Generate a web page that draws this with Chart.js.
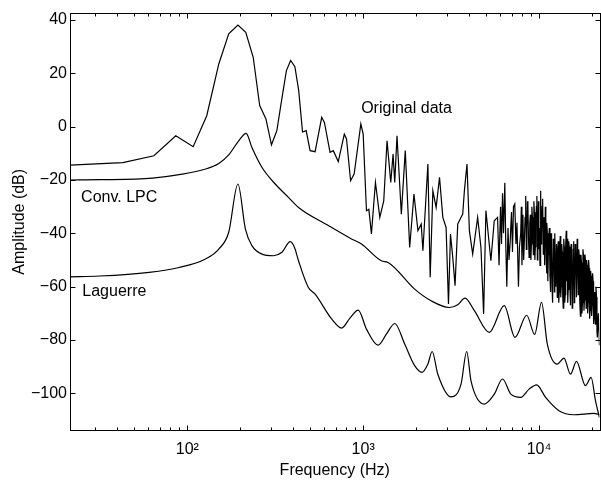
<!DOCTYPE html>
<html>
<head>
<meta charset="utf-8">
<script src="https://cdn.jsdelivr.net/npm/chart.js@4.4.0/dist/chart.umd.min.js"></script>
<style>
    html, body { margin: 0; padding: 0; background: #fff; overflow: hidden; }
    #wrap { width: 601px; height: 480px; }
</style>
</head>
<body>
<div id="wrap"><canvas id="grafico" width="601" height="480"></canvas></div>
<script>
// Espectro original (FFT): frequência (Hz) e amplitude (dB)
const origFreq = [21.5, 43, 64.6, 86, 108, 129, 151, 172, 194, 215, 237, 258, 280, 301, 323, 344, 366, 387, 409, 430,
    452, 474, 499, 533, 581, 602, 648, 676, 722, 781, 804, 848, 889, 970, 1000, 1044, 1077, 1114, 1174, 1243,
    1309, 1367, 1435, 1479, 1512, 1557, 1648, 1735, 1838, 1944, 2048, 2138, 2186, 2333, 2404, 2490, 2599, 2717, 2837, 2961,
    3055, 3136, 3231, 3329, 3449, 3681, 3763, 3893, 4016, 4194, 4476, 4673, 4840, 4987, 5322, 5563,
    5808, 5923, 6040, 6118, 6199, 6280, 6387, 6472, 6557, 6659, 6747, 6853, 6970, 7062, 7154, 7276, 7391, 7488, 7636, 7736,
    7868, 7930, 7993, 8045, 8097, 8177, 8257, 8327, 8398, 8464, 8530, 8586, 8642, 8710, 8778, 8853, 8928, 8986, 9045, 9104,
    9164, 9224, 9284, 9345, 9406, 9467, 9529, 9591, 9654, 9717, 9781, 9845, 9909, 9974, 10039, 10125, 10210, 10278, 10345, 10412,
    10480, 10576, 10673, 10729, 10785, 10856, 10927, 10984, 11041, 11092, 11143, 11216, 11289, 11362, 11436, 11534, 11632, 11708, 11784, 11862,
    11939, 12049, 12159, 12223, 12287, 12367, 12447, 12570, 12693, 12776, 12860, 12944, 13028, 13114, 13200, 13286, 13373, 13460, 13548, 13637,
    13726, 13815, 13905, 13996, 14088, 14180, 14272, 14366, 14460, 14554, 14649, 14745, 14841, 14968, 15095, 15214, 15333, 15433, 15533, 15635,
    15738, 15841, 15944, 16048, 16153, 16312, 16472, 16580, 16688, 16798, 16908, 17052, 17196, 17308, 17421, 17536, 17651, 17766, 17882, 17999,
    18116, 18234, 18353, 18437, 18522, 18643, 18764, 18887, 19010, 19135, 19260, 19386, 19512, 19640, 19768, 19898, 20028, 20159, 20290, 20423,
    20556, 20732, 20908, 21073, 21238, 21349, 21460, 21755, 22050];
const origDb = [-14.4, -13.5, -10.9, -3.4, -7.5, 4.1, 23.5, 34.8, 38.1, 35.4, 26, 7.9, 2.9, -6.8, -1.5, 10, 21, 24.8, 22.5, 13.5,
    -2, -1.5, -9, -9.4, 3.5, 1.6, -9.6, -9, -13.1, -2.8, -4.6, -20.3, -17.7, 1, -2.8, -31.5, -31, -40.2, -20.9, -34,
    -27.8, -5.3, -20.9, -10.3, -20.9, -3.4, -32.8, -9, -45.3, -25.3, -39, -36.5, -46.5, -14, -56.5, -24, -30.3, -19, -34, -37.8,
    -66.5, -40.3, -49, -59.6, -36.5, -32.8, -24, -14, -39, -47.8, -34, -45.3, -70.2, -31.5, -50.3, -35.3,
    -34, -52, -30, -44, -25, -40, -21, -45, -60, -38, -50, -43, -32, -47, -30, -29, -44, -36, -60, -45,
    -40, -30, -52, -44, -33, -50, -42, -34, -26, -46, -38, -28, -30, -42, -49, -36, -33, -50, -44, -30,
    -34, -40, -48, -28, -32, -50, -45, -36, -30, -26, -50, -42, -28, -46, -38, -52, -24, -44, -40, -30,
    -27, -48, -34, -45, -52, -30, -36, -50, -55, -36, -40, -58, -48, -42, -38, -56, -62, -40, -44, -60,
    -66, -42, -47, -62, -40, -50, -60, -44, -64, -46, -43, -66, -62, -45, -41, -64, -60, -44, -47, -64,
    -68, -42, -45, -66, -63, -44, -39, -58, -42, -66, -61, -43, -45, -60, -67, -44, -47, -68, -64, -46,
    -43, -66, -62, -44, -45, -64, -42, -50, -63, -46, -48, -66, -71, -48, -51, -70, -66, -46, -48, -69,
    -65, -48, -50, -62, -68, -50, -52, -70, -66, -50, -53, -72, -69, -54, -56, -71, -67, -55, -58, -74,
    -72, -62, -74, -60, -64, -77, -79, -70, -82];

// LPC convencional
const lpcFreq = [21.5, 31.6, 63.4, 89.8, 127, 151, 172, 196, 216, 233, 266, 316, 376, 429, 634, 858, 978, 1269, 1385, 1962,
    2435, 3095, 3449, 3793, 4288, 5212, 6339, 7295, 8509, 9443, 10330, 11143, 12693, 13852, 15095, 16323, 18353, 19770, 20965, 22050];
const lpcDb = [-20, -19.9, -19.3, -18, -15.9, -13.8, -10.6, -5.3, -2.5, -7.8, -15.3, -21.5, -26.5, -30.3, -37.1, -42.1, -44, -50.3, -50.9, -60.9,
    -65.3, -67.8, -66.8, -64.3, -69, -77.1, -67.1, -79, -70.7, -77.9, -65.9, -81.5, -89, -86.8, -92.8, -88, -97.1, -94, -103, -109];

// Modelo Laguerre
const lagFreq = [21.5, 31.6, 60.7, 89.8, 127, 151, 172, 194, 214, 233, 266, 309, 345, 385, 407, 429, 488, 533, 662, 754,
    841, 937, 1044, 1216, 1355, 1512, 1722, 1962, 2158, 2333, 2467, 2657, 3160, 3601, 3878, 4102, 4884, 5563, 6199, 6909,
    7868, 8778, 9692, 10897, 12977, 15776, 20478, 22050];
const lagDb = [-56.3, -56, -54.6, -52.8, -49.6, -45.9, -39.6, -21.5, -38.4, -44.6, -47.8, -48.4, -47.1, -43.1, -45.3, -50.3, -60.3, -62.8, -72.1, -75.5,
    -71.8, -68.8, -75.9, -81.9, -77.8, -73.8, -81.5, -89.6, -92.1, -89, -84.3, -92.8, -101.3, -96.5, -84.3, -95.3, -104, -100.3, -94.6, -100.3,
    -101.5, -98.4, -96.8, -101.5, -106.5, -108, -107.5, -108];

// Ticks dos eixos
const yTicks = [-100, -80, -60, -40, -20, 0, 20, 40];
const xTicks = [30, 40, 50, 60, 70, 80, 90, 100, 200, 300, 400, 500, 600, 700, 800, 900,
    1000, 2000, 3000, 4000, 5000, 6000, 7000, 8000, 9000, 10000, 20000];
const rotulosX = { 100: '10\u00B2', 1000: '10\u00B3', 10000: '10\u2074' };

// Rótulos das curvas (posição em coordenadas de dados)
const rotuloTextos = ['Original data', 'Conv. LPC', 'Laguerre'];
const rotuloFreq = [974, 24.9, 25.3];
const rotuloDb = [5.1, -28.4, -63.4];

const fonte = "'Liberation Sans', Arial, sans-serif";

function montaSerie(freqs, dbs) {
    return freqs.map((f, i) => ({ x: f, y: dbs[i] }));
}

// Desenha a moldura (box), os ticks para dentro e os rótulos das curvas
const molduraPlugin = {
    id: 'moldura',
    afterDraw(chart) {
        const { ctx, chartArea: a, scales: { x, y } } = chart;
        ctx.save();
        ctx.strokeStyle = '#000';
        ctx.lineWidth = 1;
        // a borda direita fica logo fora da imagem, como no original
        const l = Math.round(a.left) + 0.5, r = Math.round(a.right) + 1.5;
        const t = Math.round(a.top) + 0.5, b = Math.round(a.bottom) - 0.5;
        ctx.strokeRect(l, t, r - l, b - t);
        ctx.beginPath();
        xTicks.forEach(v => {
            const px = Math.round(x.getPixelForValue(v)) + 0.5;
            const len = rotulosX[v] ? 5 : 3;
            ctx.moveTo(px, b); ctx.lineTo(px, b - len);
            ctx.moveTo(px, t); ctx.lineTo(px, t + len);
        });
        yTicks.forEach(v => {
            const py = Math.round(y.getPixelForValue(v)) + 0.5;
            ctx.moveTo(l, py); ctx.lineTo(l + 5, py);
            ctx.moveTo(r, py); ctx.lineTo(r - 5, py);
        });
        ctx.stroke();

        ctx.fillStyle = '#000';
        ctx.font = '16px ' + fonte;
        ctx.textAlign = 'left';
        ctx.textBaseline = 'alphabetic';
        rotuloTextos.forEach((txt, i) => {
            ctx.fillText(txt, x.getPixelForValue(rotuloFreq[i]), y.getPixelForValue(rotuloDb[i]));
        });
        ctx.restore();
    }
};

const estiloLinha = { borderColor: '#000', borderWidth: 1.2, pointRadius: 0, fill: false };

new Chart(document.getElementById('grafico'), {
    type: 'line',
    data: {
        datasets: [
            { ...estiloLinha, label: 'Original data', data: montaSerie(origFreq, origDb), tension: 0 },
            { ...estiloLinha, label: 'Conv. LPC', data: montaSerie(lpcFreq, lpcDb), cubicInterpolationMode: 'monotone' },
            { ...estiloLinha, label: 'Laguerre', data: montaSerie(lagFreq, lagDb), cubicInterpolationMode: 'monotone' }
        ]
    },
    options: {
        responsive: false,
        animation: false,
        layout: { padding: { top: 11, right: 0, left: 0, bottom: 0 } },
        plugins: { legend: { display: false }, tooltip: { enabled: false } },
        scales: {
            x: {
                type: 'logarithmic',
                min: 21.53,
                max: 22050,
                grid: { display: false, drawTicks: false },
                border: { display: false },
                afterBuildTicks: s => { s.ticks = xTicks.map(v => ({ value: v })); },
                afterFit: s => { s.height = 49; },
                ticks: {
                    autoSkip: false, maxRotation: 0, minRotation: 0, padding: 9, color: '#000',
                    font: { family: fonte, size: 16 },
                    callback: v => rotulosX[v] || ''
                },
                title: { display: true, text: 'Frequency (Hz)', color: '#000', font: { family: fonte, size: 16 }, padding: { top: 0, bottom: 0 } }
            },
            y: {
                min: -114.1,
                max: 42.75,
                grid: { display: false, drawTicks: false },
                border: { display: false },
                afterBuildTicks: s => { s.ticks = yTicks.map(v => ({ value: v })); },
                afterFit: s => { s.width = 70; },
                ticks: {
                    padding: 3, color: '#000',
                    font: { family: fonte, size: 16 },
                    callback: v => String(v).replace('-', '\u2212')
                },
                title: { display: true, text: 'Amplitude (dB)', color: '#000', font: { family: fonte, size: 16 }, padding: { top: 10, bottom: 0 } }
            }
        }
    },
    plugins: [molduraPlugin]
});
</script>
</body>
</html>
